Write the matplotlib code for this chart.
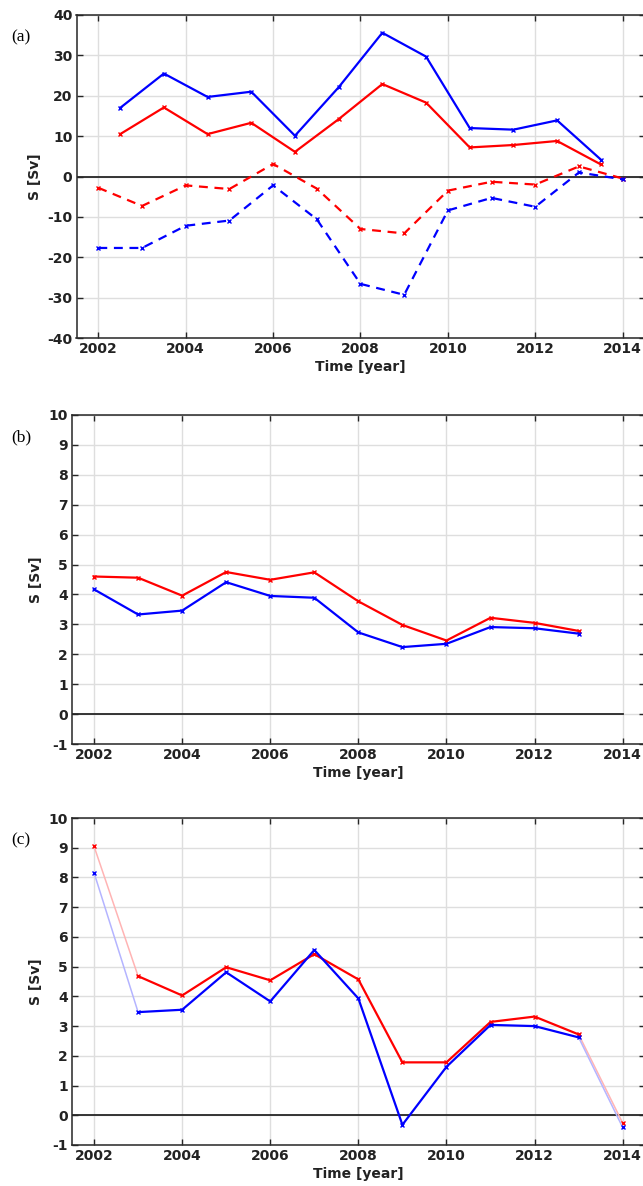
import numpy as np
import matplotlib
matplotlib.use('Agg')
import matplotlib.pyplot as plt

plt.rcParams['axes.unicode_minus'] = False

# panel (a): solid lines on half years, dashed on whole years
years_half = [2002.5, 2003.5, 2004.5, 2005.5, 2006.5, 2007.5,
              2008.5, 2009.5, 2010.5, 2011.5, 2012.5, 2013.5]
a_blue_solid = [17.0, 25.5, 19.7, 21.0, 10.1, 22.1, 35.6, 29.7, 12.0, 11.6, 13.9, 4.2]
a_red_solid = [10.5, 17.1, 10.5, 13.3, 6.1, 14.2, 22.9, 18.3, 7.2, 7.8, 8.8, 3.0]

years_full = [2002, 2003, 2004, 2005, 2006, 2007, 2008,
              2009, 2010, 2011, 2012, 2013, 2014]
a_blue_dash = [-17.7, -17.7, -12.2, -10.9, -2.2, -10.6, -26.6,
               -29.3, -8.4, -5.3, -7.5, 1.0, -0.7]
a_red_dash = [-2.8, -7.3, -2.2, -3.1, 3.1, -3.0, -13.0,
              -14.1, -3.5, -1.3, -2.0, 2.5, -0.5]

# panel (b)
b_years = [2002, 2003, 2004, 2005, 2006, 2007, 2008, 2009, 2010, 2011, 2012, 2013]
b_red = [4.60, 4.56, 3.96, 4.75, 4.49, 4.74, 3.77, 2.98, 2.46, 3.22, 3.05, 2.78]
b_blue = [4.17, 3.33, 3.46, 4.41, 3.95, 3.89, 2.73, 2.24, 2.35, 2.91, 2.87, 2.69]

# panel (c)
c_years = [2002, 2003, 2004, 2005, 2006, 2007, 2008,
           2009, 2010, 2011, 2012, 2013, 2014]
c_red = [9.05, 4.68, 4.03, 4.98, 4.54, 5.42, 4.57, 1.78, 1.78, 3.14, 3.32, 2.72, -0.26]
c_blue = [8.16, 3.47, 3.55, 4.81, 3.83, 5.56, 3.93, -0.32, 1.63, 3.04, 3.00, 2.62, -0.41]

x_ticks = [2002, 2004, 2006, 2008, 2010, 2012, 2014]

W, H = 643, 1186
fig = plt.figure(figsize=(W / 100, H / 100), dpi=100)

BLUE = '#0000ff'
RED = '#ff0000'
SPINE = '#262626'


def make_ax(left, top, right, bottom):
    return fig.add_axes([left / W, 1 - bottom / H, (right - left) / W, (bottom - top) / H])


def style(ax, ylim, yticks, label, zero_end=None):
    ax.set_xlim(2001.5, 2014.5)
    ax.set_ylim(*ylim)
    ax.set_xticks(x_ticks)
    ax.set_yticks(yticks)
    ax.grid(True, color='#dedede', linewidth=1.0)
    ax.set_axisbelow(True)
    if zero_end is None:
        ax.axhline(0, color=SPINE, linewidth=1.3, zorder=1.5)
    else:
        ax.plot([2001.5, zero_end], [0, 0], color=SPINE, linewidth=1.3, zorder=1.5)
    ax.tick_params(direction='in', length=4.5, width=1.0, colors=SPINE,
                   top=True, right=True, labelsize=10, pad=3)
    for lab in ax.get_xticklabels() + ax.get_yticklabels():
        lab.set_fontweight('bold')
        lab.set_color('#222222')
    for s in ax.spines.values():
        s.set_color(SPINE)
        s.set_linewidth(1.1)
    ax.set_xlabel('Time [year]', fontsize=10, fontweight='bold', color='#222222', labelpad=3)
    ax.set_ylabel('S [Sv]', fontsize=10, fontweight='bold', color='#222222', labelpad=4)
    bb = ax.get_position()
    fig.text(21 / W, bb.y1 - 22 / H, label, fontsize=12.5, family='Liberation Serif',
             ha='center', va='center')


mk = dict(marker='x', markersize=3.0, markeredgewidth=1.0)

# (a)
ax1 = make_ax(76.5, 15, 644.5, 338)
ax1.plot(years_half, a_blue_solid, color=BLUE, lw=1.6, **mk)
ax1.plot(years_half, a_red_solid, color=RED, lw=1.6, **mk)
ax1.plot(years_full, a_red_dash, color=RED, lw=1.6, linestyle=(0, (4, 3)), **mk)
ax1.plot(years_full, a_blue_dash, color=BLUE, lw=1.6, linestyle=(0, (4, 3)), **mk)
style(ax1, (-40, 40), np.arange(-40, 41, 10), '(a)')

# (b)
ax2 = make_ax(72, 415, 644.7, 744)
ax2.plot(b_years, b_red, color=RED, lw=1.6, **mk)
ax2.plot(b_years, b_blue, color=BLUE, lw=1.6, **mk)
style(ax2, (-1, 10), np.arange(-1, 11, 1), '(b)', zero_end=2014)

# (c) first and last segments drawn faded
ax3 = make_ax(72, 818, 644.7, 1145)
for ys, col, pale in [(c_red, RED, '#ffb4b4'), (c_blue, BLUE, '#b4b4ff')]:
    ax3.plot(c_years[:2], ys[:2], color=pale, lw=1.1)
    ax3.plot(c_years[-2:], ys[-2:], color=pale, lw=1.1)
    ax3.plot(c_years[1:-1], ys[1:-1], color=col, lw=1.6, **mk)
    ax3.plot([c_years[0], c_years[-1]], [ys[0], ys[-1]], color=col, lw=0,
             marker='x', markersize=3.0, markeredgewidth=1.0)
style(ax3, (-1, 10), np.arange(-1, 11, 1), '(c)')

fig.savefig('out.png', dpi=100)
